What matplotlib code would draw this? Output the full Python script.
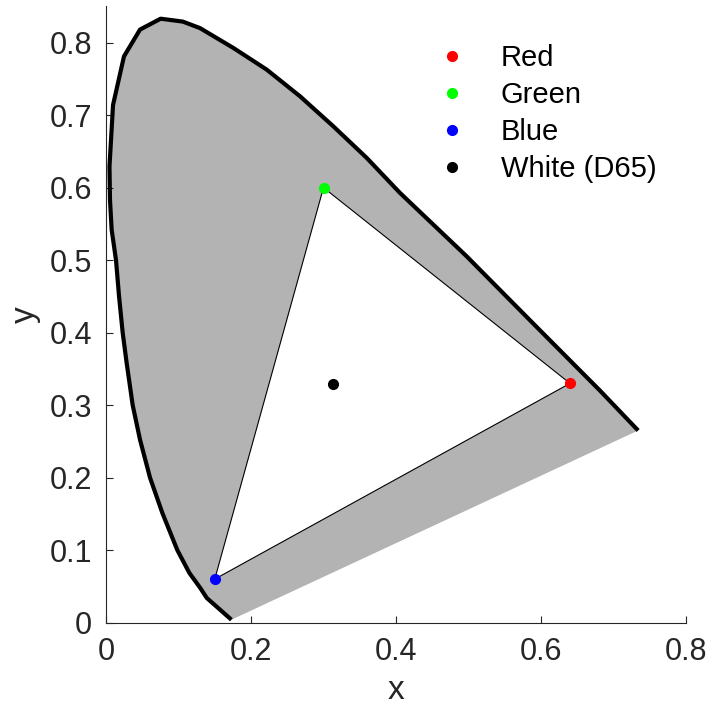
import numpy as np
import matplotlib
matplotlib.use("Agg")
import matplotlib.pyplot as plt

plt.rcParams['font.family'] = ['Liberation Sans', 'DejaVu Sans']

# spectral locus (x, y chromaticity), from the violet end round to the red end
locus_x = [0.173, 0.139, 0.130, 0.115, 0.0984, 0.0777, 0.0607, 0.0469, 0.0368,
           0.0285, 0.023, 0.018, 0.0138, 0.0078, 0.0055, 0.0048, 0.0097, 0.0248,
           0.0469, 0.0754, 0.106, 0.1297, 0.1756, 0.2216, 0.2676, 0.3135, 0.3596,
           0.4055, 0.4975, 0.5894, 0.6814, 0.734]
locus_y = [0.004, 0.034, 0.0478, 0.0685, 0.100, 0.1513, 0.200, 0.2524, 0.300,
           0.358, 0.400, 0.450, 0.500, 0.542, 0.583, 0.629, 0.714, 0.781,
           0.818, 0.833, 0.829, 0.820, 0.7927, 0.7628, 0.726, 0.6846, 0.641,
           0.5927, 0.5052, 0.4124, 0.320, 0.265]

# sRGB primaries and white point
prim_names = ['Red', 'Green', 'Blue']
prim_x = [0.64, 0.30, 0.15]
prim_y = [0.33, 0.60, 0.06]
prim_colors = ['#ff0000', '#00ff00', '#0000ff']
white_name = 'White (D65)'
white_xy = [0.3127, 0.3290]

fig = plt.figure(figsize=(7.12, 7.14), dpi=100)
ax = fig.add_axes([106 / 712, 91 / 714, 580 / 712, 617 / 714])

# gamut of visible colours, then the sRGB triangle cut out of it
ax.fill(locus_x, locus_y, color='#b3b3b3', lw=0, zorder=1)
ax.fill(prim_x, prim_y, facecolor='white', edgecolor='black', lw=0.8, zorder=2)
ax.plot(locus_x, locus_y, color='black', lw=3, solid_capstyle='butt',
        solid_joinstyle='round', zorder=3)

for name, px, py, c in zip(prim_names, prim_x, prim_y, prim_colors):
    ax.plot(px, py, 'o', color=c, ms=7, label=name, zorder=4)
ax.plot(white_xy[0], white_xy[1], 'o', color='black', ms=7, label=white_name, zorder=4)

ax.set_xlim(0, 0.8)
ax.set_ylim(0, 0.85)
ax.set_aspect('equal')
ax.set_xticks([0, 0.2, 0.4, 0.6, 0.8])
ax.set_xticklabels(['0', '0.2', '0.4', '0.6', '0.8'])
ax.set_yticks(np.arange(0, 0.81, 0.1))
ax.set_yticklabels(['0', '0.1', '0.2', '0.3', '0.4', '0.5', '0.6', '0.7', '0.8'])
ax.spines['top'].set_visible(False)
ax.spines['right'].set_visible(False)
for s in ['left', 'bottom']:
    ax.spines[s].set_color('#262626')
    ax.spines[s].set_linewidth(0.8)
ax.tick_params(direction='in', length=5, width=0.8, color='#262626',
               labelsize=22, labelcolor='#262626', pad=10)
ax.set_xlabel('x', fontsize=24, color='#262626', labelpad=6)
ax.set_ylabel('y', fontsize=24, color='#262626', labelpad=6)

ax.legend(loc='upper left', bbox_to_anchor=(437 / 712, (714 - 44) / 714),
          bbox_transform=fig.transFigure, frameon=False, fontsize=21,
          handlelength=1.0, handletextpad=1.18, labelspacing=0.31,
          borderpad=0, borderaxespad=0, markerscale=1.0)

fig.savefig('out.png', dpi=100)
